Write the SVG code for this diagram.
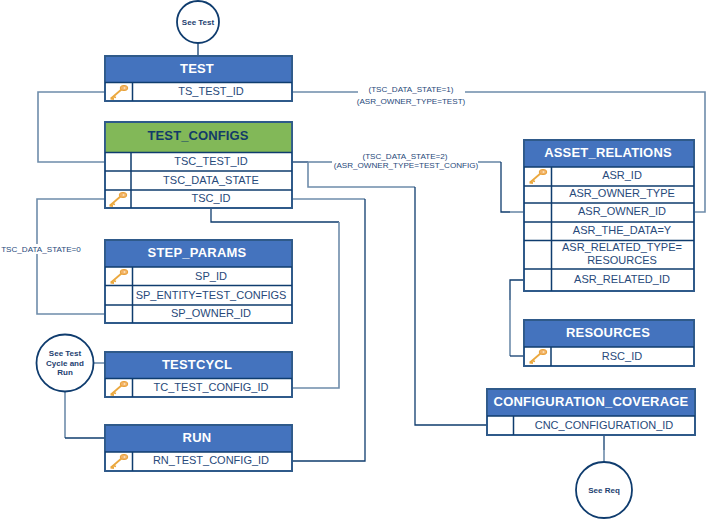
<svg xmlns="http://www.w3.org/2000/svg" xmlns:xlink="http://www.w3.org/1999/xlink" width="706" height="520" viewBox="0 0 706 520">
<style>
text{font-family:"Liberation Sans",Arial,sans-serif;text-anchor:middle}
.hd{fill:#4473be}
.gn{fill:#82b858}
.box{fill:#fff;stroke:#0f3c6e;stroke-width:1.6}
.ln{fill:none;stroke:#0f3c6e;stroke-width:1.5}
.out{fill:none;stroke:#2f5a8a;stroke-width:1.8}
.ht{font-size:13px;font-weight:bold;fill:#fff;letter-spacing:.2px}
.htd{font-size:13px;font-weight:bold;fill:#123a68;letter-spacing:.1px}
.rt{font-size:11px;fill:#27497a}
.ct{font-size:8px;font-weight:bold;fill:#1d4170}
.lb{font-size:8.100px;fill:#27497a}
.c{fill:#fff;stroke:#0f3c6e;stroke-width:1.8}
.l{fill:none;stroke:#6e8cab;stroke-width:1.6}
.d{fill:none;stroke:#0f3c6e;stroke-width:1.3}
.kf{fill:none;stroke:#eba83e;stroke-width:1.8}
</style>
<defs>
<g id="key">
<path class="kf" d="M-7 6.500L4 -3"/>
<path class="kf" d="M-7.500 6.500l3.500 .5M-5 4.500l3 1"/>
<ellipse cx="6" cy="-4" rx="3.800" ry="2.600" fill="#f2b267" stroke="#e8a23a" stroke-width="1"/>
<circle cx="6.500" cy="-4" r="1" fill="#fbe3b8"/>
</g>
</defs>
<g id="connectors">
<path class="d" d="M198 43V56"/>
<path class="l" d="M105 92H38V162H105"/>
<path class="l" d="M292 92H358M465 92H705V212H694"/>
<path class="d" d="M292 162H308"/>
<path class="l" d="M308 162H332"/>
<path class="l" d="M308 162V187H415"/>
<path class="d" d="M415 187V425H487"/>
<path class="l" d="M478 162H501"/>
<path class="d" d="M501 162V212H510"/>
<path class="l" d="M510 212H524"/>
<path class="l" d="M292 199H365"/>
<path class="d" d="M365 199V461H292"/>
<path class="d" d="M211 208V222H339"/>
<path class="l" d="M339 222V388H292"/>
<path class="l" d="M105 199H37V314H105"/>
<path class="l" d="M94 363H105"/>
<path class="l" d="M65 392V438"/>
<path class="d" d="M65 438H105"/>
<path class="d" d="M524 280H510V300"/>
<path class="l" d="M510 300V356"/>
<path class="d" d="M510 356H524"/>
<path class="d" d="M604 435V450"/>
<path class="l" d="M604 450V462"/>
</g>
<g id="label-0"><rect x="0" y="244" width="82" height="10" fill="#fff"/><text class="lb" x="41" y="252">TSC_DATA_STATE=0</text></g>
<g id="label-1"><text class="lb" x="411" y="92">(TSC_DATA_STATE=1)</text><text class="lb" x="411" y="104">(ASR_OWNER_TYPE=TEST)</text></g>
<g id="label-2"><text class="lb" x="405" y="159">(TSC_DATA_STATE=2)</text><text class="lb" x="406" y="168">(ASR_OWNER_TYPE=TEST_CONFIG)</text></g>

<g id="see-test"><circle class="c" cx="198" cy="22" r="21"/><text class="ct" x="198" y="24.500">See Test</text></g>
<g id="see-cycle"><circle class="c" cx="65" cy="363" r="28.500"/><text class="ct" x="65" y="356">See Test</text><text class="ct" x="65" y="365.500">Cycle and</text><text class="ct" x="65" y="375">Run</text></g>
<g id="see-req"><circle class="c" cx="604" cy="490" r="28"/><text class="ct" x="604" y="492.500">See Req</text></g>

<g id="test">
<rect class="box" x="105" y="56" width="187" height="45"/>
<rect class="hd" x="105" y="56" width="187" height="26.500"/>
<path class="out" d="M105 56H292V101H105Z"/><path class="ln" d="M105 82.500H292M132.500 82.500V101"/>
<use xlink:href="#key" href="#key" x="118" y="92"/>
<text class="ht" x="197" y="73">TEST</text><text class="rt" x="211" y="95">TS_TEST_ID</text>
</g>
<g id="test-configs">
<rect class="box" x="105" y="122" width="187" height="86"/>
<rect class="gn" x="105" y="122" width="187" height="30"/>
<path class="out" d="M105 122H292V208H105Z"/><path class="ln" d="M105 152.500H292M105 171H292M105 190H292M131 152.500V208"/>
<use xlink:href="#key" href="#key" x="117" y="199"/>
<text class="htd" x="198" y="140">TEST_CONFIGS</text>
<text class="rt" x="211" y="165">TSC_TEST_ID</text><text class="rt" x="211" y="184">TSC_DATA_STATE</text><text class="rt" x="211" y="202">TSC_ID</text>
</g>
<g id="step-params">
<rect class="box" x="105" y="240" width="187" height="83"/>
<rect class="hd" x="105" y="240" width="187" height="27"/>
<path class="out" d="M105 240H292V323H105Z"/><path class="ln" d="M105 267H292M105 285.500H292M105 305H292M132.500 267V323"/>
<use xlink:href="#key" href="#key" x="118" y="276"/>
<text class="ht" x="197" y="257">STEP_PARAMS</text>
<text class="rt" x="211" y="280">SP_ID</text><text class="rt" x="211" y="299">SP_ENTITY=TEST_CONFIGS</text><text class="rt" x="211" y="317">SP_OWNER_ID</text>
</g>
<g id="testcycl">
<rect class="box" x="105" y="352" width="187" height="45"/>
<rect class="hd" x="105" y="352" width="187" height="26.500"/>
<path class="out" d="M105 352H292V397H105Z"/><path class="ln" d="M105 378.500H292M132.500 378.500V397"/>
<use xlink:href="#key" href="#key" x="118" y="388"/>
<text class="ht" x="197" y="369">TESTCYCL</text><text class="rt" x="211" y="391">TC_TEST_CONFIG_ID</text>
</g>
<g id="run">
<rect class="box" x="105" y="425" width="187" height="46"/>
<rect class="hd" x="105" y="425" width="187" height="27"/>
<path class="out" d="M105 425H292V471H105Z"/><path class="ln" d="M105 452H292M132.500 452V471"/>
<use xlink:href="#key" href="#key" x="118" y="461"/>
<text class="ht" x="197" y="442">RUN</text><text class="rt" x="211" y="464">RN_TEST_CONFIG_ID</text>
</g>
<g id="asset-relations">
<rect class="box" x="524" y="140" width="170" height="151"/>
<rect class="hd" x="524" y="140" width="170" height="27"/>
<path class="out" d="M524 140H694V291H524Z"/><path class="ln" d="M524 167H694M524 186H694M524 203H694M524 222H694M524 240.500H694M524 269H694M551.500 167V291"/>
<use xlink:href="#key" href="#key" x="537" y="176"/>
<text class="ht" x="608" y="157">ASSET_RELATIONS</text>
<text class="rt" x="622" y="179">ASR_ID</text><text class="rt" x="622" y="197">ASR_OWNER_TYPE</text><text class="rt" x="622" y="215">ASR_OWNER_ID</text><text class="rt" x="622" y="234">ASR_THE_DATA=Y</text><text class="rt" x="622" y="251">ASR_RELATED_TYPE=</text><text class="rt" x="622" y="264">RESOURCES</text><text class="rt" x="622" y="283">ASR_RELATED_ID</text>
</g>
<g id="resources">
<rect class="box" x="524" y="320" width="170" height="46"/>
<rect class="hd" x="524" y="320" width="170" height="27"/>
<path class="out" d="M524 320H694V366H524Z"/><path class="ln" d="M524 347H694M551 347V366"/>
<use xlink:href="#key" href="#key" x="537" y="356"/>
<text class="ht" x="608" y="337">RESOURCES</text><text class="rt" x="622" y="360">RSC_ID</text>
</g>
<g id="configuration-coverage">
<rect class="box" x="487" y="389" width="208" height="46"/>
<rect class="hd" x="487" y="389" width="208" height="27"/>
<path class="out" d="M487 389H695V435H487Z"/><path class="ln" d="M487 416H695M513.500 416V435"/>
<text class="ht" x="591" y="406">CONFIGURATION_COVERAGE</text><text class="rt" x="604" y="429">CNC_CONFIGURATION_ID</text>
</g>
</svg>
